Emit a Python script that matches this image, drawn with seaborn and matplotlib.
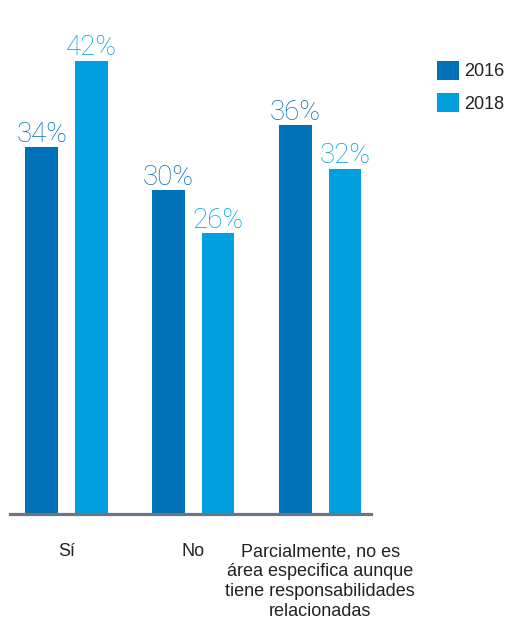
import matplotlib
matplotlib.use("Agg")
import matplotlib.pyplot as plt
import seaborn as sns
import pandas as pd
from matplotlib.patches import Patch

# ---- data ----
categories = ["Sí", "No",
              "Parcialmente, no es\nárea especifica aunque\ntiene responsabilidades\nrelacionadas"]
years = ["2016", "2018"]
values_2016 = [34, 30, 36]
values_2018 = [42, 26, 32]

colors = {"2016": "#0071b9", "2018": "#009fdf"}

df = pd.DataFrame({
    "categoria": categories * 2,
    "anio": [years[0]] * len(categories) + [years[1]] * len(categories),
    "valor": values_2016 + values_2018,
})

sns.set_theme(style="white")
plt.rcParams["font.family"] = ["Liberation Sans", "DejaVu Sans"]

W, H = 507, 624
fig = plt.figure(figsize=(W / 100, H / 100), dpi=100)
ax = fig.add_axes([10 / W, (H - 514) / H, 361 / W, 504 / H])

sns.barplot(data=df, x="categoria", y="valor", hue="anio", palette=colors,
            width=0.78, gap=0.34, saturation=1, linewidth=0,
            legend=False, ax=ax)

ax.set_xlim(-0.445, 2.40)
ax.set_ylim(0, 46.7)
ax.set_xlabel("")
ax.set_ylabel("")
ax.set_yticks([])
for s in ["top", "left", "right"]:
    ax.spines[s].set_visible(False)
ax.spines["bottom"].set_color("#6d7580")
ax.spines["bottom"].set_linewidth(2.3)
ax.spines["bottom"].set_zorder(5)
ax.tick_params(axis="x", length=0, pad=21, labelsize=13, labelcolor="#222222")
for lbl in ax.get_xticklabels():
    lbl.set_linespacing(1.22)
    lbl.set_multialignment("center")

for container, yr in zip(ax.containers, years):
    for bar in container:
        h = bar.get_height()
        ax.annotate(f"{h:.0f}%", (bar.get_x() + bar.get_width() / 2, h),
                    xytext=(0, 4), textcoords="offset points",
                    ha="center", va="baseline", color=colors[yr],
                    fontsize=20, fontweight="light",
                    family=["Roboto", "Liberation Sans", "DejaVu Sans"])

handles = [Patch(facecolor=colors[y], edgecolor="none") for y in years]
fig.legend(handles, years, loc="upper left",
           bbox_to_anchor=(437 / W, 1 - 61 / H),
           frameon=False, borderpad=0, borderaxespad=0,
           handlelength=1.22, handleheight=1.22, handletextpad=0.3,
           labelspacing=0.72, fontsize=13, labelcolor="#222222")

fig.savefig("out.png", dpi=100)
